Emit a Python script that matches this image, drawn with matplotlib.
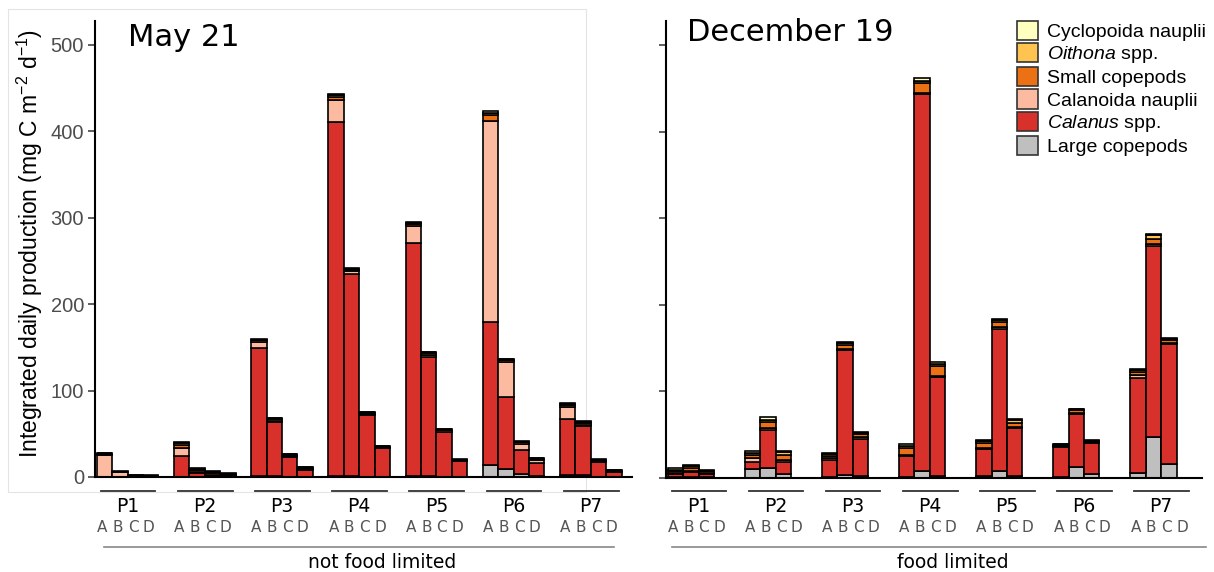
import numpy as np
import matplotlib.pyplot as plt
import matplotlib.transforms as mtransforms
from matplotlib.patches import Patch, Rectangle

plt.rcParams['font.family'] = 'Liberation Sans'
plt.rcParams['mathtext.fontset'] = 'custom'
plt.rcParams['mathtext.rm'] = 'Liberation Sans'
plt.rcParams['mathtext.it'] = 'Liberation Sans:italic'

# stations and sub-sites
stations = ['P1', 'P2', 'P3', 'P4', 'P5', 'P6', 'P7']
sites = ['A', 'B', 'C', 'D']

# stacking order, bottom to top
species = ['Large copepods', r'$\mathit{Calanus}$ spp.', 'Calanoida nauplii',
           'Small copepods', r'$\mathit{Oithona}$ spp.', 'Cyclopoida nauplii']
colors = ['#bfbfbf', '#d8302a', '#fcbba1', '#ec7014', '#fec44f', '#ffffc0']

# May 21, values per P1A..P1D, P2A..., mg C m-2 d-1
may_large = [0, 0, 0, 0, 0.5, 0.5, 0, 0, 1, 1, 0.5, 0, 1, 1, 0.5, 0,
             1, 1, 0.5, 0, 13.5, 9.5, 3.5, 1.5, 2.5, 2.5, 0, 0]
may_calanus = [0.5, 0.3, 0.3, 0.2, 24, 4.5, 1.5, 1, 148, 63, 22.5, 8.5,
               410, 234, 71, 33, 270, 137.5, 51.5, 18, 165.5, 83, 28, 14.5,
               64.5, 56.5, 17, 5.8]
may_calanoida = [24.5, 5, 0.5, 0.3, 9, 1, 1, 1, 7.5, 1, 1, 0.8, 25, 3, 1, 0.8,
                 19.5, 3, 0.5, 0.5, 233, 40.5, 7, 3.5, 14, 1.5, 0.5, 0.3]
may_small = [2, 0.5, 0.8, 0.6, 4, 2, 2, 1, 1.5, 2, 1.5, 1, 4, 2, 1.5, 1.2,
             2.5, 2, 1.5, 1, 7, 2, 1.5, 1.5, 2.5, 2, 1.5, 1]
may_oithona = [0.5, 0.3, 0.5, 0.4, 1.5, 1, 1, 0.7, 1, 1, 1, 0.7, 1.5, 1, 1, 0.7,
               1, 1, 1, 0.6, 2, 1, 1, 0.6, 1.5, 1, 1, 0.5]
may_cyclo = [0.5, 0.3, 0.4, 0.3, 1, 1, 1, 0.6, 0.7, 0.5, 0.5, 0.5, 1.5, 0.5, 0.5, 0.5,
             1, 0.5, 0.5, 0.4, 2, 0.8, 0.8, 0.4, 1, 0.8, 0.5, 0.4]

# December 19, no D sites sampled
nan = np.nan
dec_large = [0.5, 1, 0.5, nan, 9.5, 10.5, 4.5, nan, 1, 2.5, 1.5, nan,
             0.5, 7.5, 2, nan, 2, 7, 1.5, nan, 0.5, 12, 4.3, nan, 5, 46.5, 15.5, nan]
dec_calanus = [3, 5, 3.5, nan, 9, 44.5, 14, nan, 19.5, 144.5, 43.5, nan,
               24, 435.5, 114, nan, 31, 165, 55.5, nan, 34.5, 61.7, 35.7, nan,
               110.5, 221.5, 139, nan]
dec_calanoida = [1.5, 2, 1, nan, 3.5, 2, 2, nan, 1.5, 1.5, 1.5, nan,
                 1, 1.5, 1.5, nan, 1.5, 2, 1.5, nan, 1, 1, 0.8, nan, 2.5, 1.5, 1.5, nan]
dec_small = [2.5, 3.5, 2, nan, 4, 7, 6, nan, 3, 4.5, 3.5, nan,
             8.5, 12, 11.5, nan, 5, 6, 5, nan, 1.5, 3, 1, nan, 4, 6.5, 2.5, nan]
dec_oithona = [1.5, 2, 1, nan, 2.5, 3, 2.5, nan, 2, 2, 2, nan,
               2.5, 2.5, 2.5, nan, 2.5, 2, 2.5, nan, 1, 1, 0.6, nan, 2, 4, 1.5, nan]
dec_cyclo = [1.5, 1.5, 1, nan, 2.5, 3.5, 2, nan, 1.5, 1.5, 1, nan,
             2.3, 2.5, 2, nan, 1.5, 1.5, 1.5, nan, 0.7, 0.8, 0.4, nan, 1.8, 2, 1.5, nan]

may = [may_large, may_calanus, may_calanoida, may_small, may_oithona, may_cyclo]
dec = [dec_large, dec_calanus, dec_calanoida, dec_small, dec_oithona, dec_cyclo]

W, H = 1214, 572
fig = plt.figure(figsize=(W / 100, H / 100), dpi=100)


def fx(px):
    return px / W


def fy(py):
    return 1 - py / H


pos = np.array([g * 5 + j for g in range(len(stations)) for j in range(len(sites))], float)


def draw_panel(ax, layers, title, title_px, group_label, line_span):
    ax.patch.set_visible(False)
    bottom = np.zeros(len(pos))
    for vals, col in zip(layers, colors):
        vals = np.array(vals, float)
        ok = np.isfinite(vals)
        ax.bar(pos[ok], vals[ok], width=1.0, bottom=bottom[ok], color=col,
               edgecolor='black', linewidth=1.2, zorder=2)
        bottom[ok] += vals[ok]
    ax.set_xlim(-0.61, 34.15)
    ax.set_ylim(0, 528)
    ax.set_xticks([])
    ax.set_yticks([0, 100, 200, 300, 400, 500])
    ax.tick_params(axis='y', length=5, width=1.1, color='#333333', labelsize=14.5,
                   labelcolor='#4d4d4d', pad=3)
    for s in ['top', 'right']:
        ax.spines[s].set_visible(False)
    for s in ['left', 'bottom']:
        ax.spines[s].set_linewidth(1.5)
        ax.spines[s].set_color('black')

    fig.text(fx(title_px[0]), fy(title_px[1]), title, fontsize=22,
             family='DejaVu Sans', va='baseline', ha='left')

    tr = mtransforms.blended_transform_factory(ax.transData, fig.transFigure)
    for g, st in enumerate(stations):
        x0 = g * 5 - 0.5
        ax.plot([x0 + 0.25, x0 + 3.8], [fy(490.5)] * 2, color='#333333', lw=1.3,
                transform=tr, clip_on=False)
        ax.text(x0 + 2.0, fy(512.5), st, transform=tr, ha='center', va='baseline',
                fontsize=13.5, family='DejaVu Sans')
        for j, s in enumerate(sites):
            ax.text(g * 5 + j - 0.15, fy(531.7), s, transform=tr, ha='center',
                    va='baseline', fontsize=11, family='DejaVu Sans', color='#555555')
    ax.plot(line_span, [fy(546.5)] * 2, color='#888888', lw=1.2, transform=tr,
            clip_on=False)
    ax.text(18.0, fy(568), group_label, transform=tr, ha='center', va='baseline',
            fontsize=13.5, family='DejaVu Sans')


# faint frame around left panel
fig.patches.append(Rectangle((fx(8), fy(491.7)), (585.7 - 8) / W, (491.7 - 9.3) / H,
                             transform=fig.transFigure, fill=False,
                             edgecolor='#e4e4e4', lw=0.8, zorder=-1))

ax1 = fig.add_axes([fx(95), fy(477), (631.7 - 95) / W, (477 - 20.7) / H])
ax2 = fig.add_axes([fx(666), fy(477.5), (1202 - 666) / W, (477.5 - 21) / H])

draw_panel(ax1, may, 'May 21', (128, 46), 'not food limited', [-0.03, 33.0])
draw_panel(ax2, dec, 'December 19', (687, 41), 'food limited', [-0.22, 34.4])
ax2.tick_params(axis='y', labelleft=False)

fig.text(fx(30), fy(243), r'Integrated daily production (mg C m$^{-2}$ d$^{-1}$)',
         rotation=90, ha='center', va='center', fontsize=16.5)

handles = [Patch(facecolor=c, edgecolor='#333333', linewidth=1.2) for c in colors]
fig.legend(handles[::-1], species[::-1], loc='upper left',
           bbox_to_anchor=(fx(1016.7), fy(20.7)), frameon=False, borderpad=0,
           borderaxespad=0, handlelength=1.08, handleheight=1.13, labelspacing=0.11,
           handletextpad=0.46, fontsize=14)

fig.savefig('out.png', dpi=100)
